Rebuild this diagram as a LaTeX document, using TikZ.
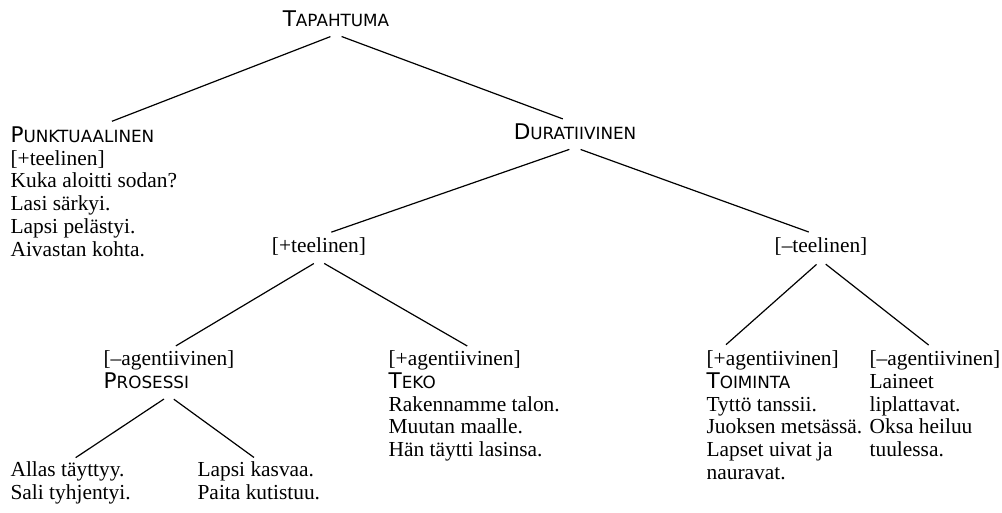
\documentclass[tikz,border=0pt]{standalone}
\usepackage{fontspec}
\setmainfont{Liberation Serif}
\setsansfont{DejaVu Sans}

% small caps in the sans face, faked by size
\newcommand{\kapiteeli}[2]{{\sffamily\fontsize{10.8}{11.5}\selectfont #1\fontsize{8.4}{11.5}\selectfont #2}}

\begin{document}
\begin{tikzpicture}[x=0.5pt,y=-0.5pt]
		\tikzstyle{every path}=[line width=0.6pt]
		
		\tikzstyle{teksti}=[inner sep=0pt,font=\fontsize{10.7}{11.4}\selectfont,
		execute at begin node=\strut,execute at end node=\strut]
		\tikzstyle{lause}=[teksti,align=left,anchor=north west]
		\tikzstyle{otsake}=[teksti,anchor=base]
		\tikzstyle{haara}=[shorten <=3pt,shorten >=6.5pt]
		
		\useasboundingbox (0,0) rectangle (1002,513);
		
		%% Top of the tree
		\node [otsake] (tap) at (336,27) {\kapiteeli{T}{APAHTUMA}};
		\node [lause] (punkt) at (10,126) {\kapiteeli{P}{UNKTUAALINEN}\\{}[+teelinen]\\
			Kuka aloitti sodan?\\ Lasi särkyi.\\ Lapsi pelästyi.\\ Aivastan kohta.};
		\node [otsake] (dur) at (575,140) {\kapiteeli{D}{URATIIVINEN}};
		
		%% Second level
		\node [otsake] (pteel) at (319,253) {[+teelinen]};
		\node [otsake] (mteel) at (821,253) {[–teelinen]};
		
		%% Third level
		\node [lause] (pros) at (103,350) {[–agentiivinen]\\ \kapiteeli{P}{ROSESSI}};
		\node [lause] (teko) at (388,350) {[+agentiivinen]\\ \kapiteeli{T}{EKO}\\
			Rakennamme talon.\\ Muutan maalle.\\ Hän täytti lasinsa.};
		\node [lause] (toim) at (706,350) {[+agentiivinen]\\ \kapiteeli{T}{OIMINTA}\\
			Tyttö tanssii.\\ Juoksen metsässä.\\ Lapset uivat ja\\ nauravat.};
		\node [lause] (lain) at (869,350) {[–agentiivinen]\\ Laineet\\ liplattavat.\\
			Oksa heiluu\\ tuulessa.};
		
		%% Bottom level
		\node [lause] (allas) at (10,461) {Allas täyttyy.\\ Sali tyhjentyi.};
		\node [lause] (lapsi) at (197,461) {Lapsi kasvaa.\\ Paita kutistuu.};
		
		%% Branches
		\draw [haara] (tap.south) -- ([xshift=3pt]punkt.north);
		\draw [haara] (tap.south) -- (dur.north);
		\draw [haara] (dur.south) -- (pteel.north);
		\draw [haara] (dur.south) -- (mteel.north);
		\draw [haara,shorten >=4pt] (pteel.south) -- (pros.north);
		\draw [haara,shorten >=4pt] (pteel.south) -- (teko.north);
		\draw [haara,shorten >=4pt] (mteel.south) -- ([xshift=7pt]toim.north west);
		\draw [haara,shorten >=4pt] (mteel.south) -- (lain.north);
		\draw [haara,shorten >=3pt] (pros.south) -- (allas.north);
		\draw [haara,shorten >=3pt] (pros.south) -- (lapsi.north);
		
\end{tikzpicture}
\end{document}
